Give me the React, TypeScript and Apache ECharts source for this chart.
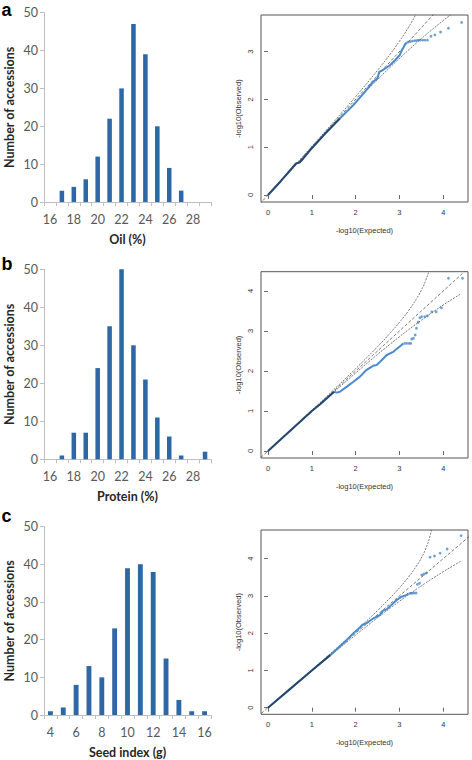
import React, { useEffect, useRef } from "react";
import * as echarts from "echarts";

// ---------- Histogram data ----------
const OIL_CATS = ["16", "17", "18", "19", "20", "21", "22", "23", "24", "25", "26", "27", "28", "29"];
const OIL_COUNTS = [0, 3, 4, 6, 12, 22, 30, 47, 39, 20, 9, 3, 0, 0];
const PROTEIN_CATS = ["16", "17", "18", "19", "20", "21", "22", "23", "24", "25", "26", "27", "28", "29"];
const PROTEIN_COUNTS = [0, 1, 7, 7, 24, 35, 50, 30, 21, 11, 6, 1, 0, 2];
const SEED_CATS = ["4", "5", "6", "7", "8", "9", "10", "11", "12", "13", "14", "15", "16"];
const SEED_COUNTS = [1, 2, 8, 13, 10, 23, 39, 40, 38, 15, 4, 1, 1];
const HIST_Y_MAX = 50;
const HIST_Y_STEP = 10;

// ---------- QQ plot data (-log10 expected, -log10 observed) ----------
const QQ_X_TICKS = [0, 1, 2, 3, 4];
const DIAG = [[-0.5, -0.5], [5, 5]];
const CI_UPPER = [
  [0, 0.005], [0.5, 0.51], [1, 1.017], [1.5, 1.531], [2, 2.058], [2.5, 2.608], [2.8, 2.962],
  [3, 3.216], [3.2, 3.496], [3.4, 3.822], [3.5, 4.019], [3.6, 4.262], [3.7, 4.612], [3.75, 4.902], [3.78, 5.2],
];
const CI_LOWER = [
  [0, -0.005], [0.5, 0.49], [1, 0.983], [1.5, 1.471], [2, 1.949], [2.5, 2.414], [2.8, 2.682],
  [3, 2.856], [3.2, 3.026], [3.4, 3.19], [3.5, 3.27], [3.6, 3.349], [3.7, 3.427], [4.0, 3.65], [4.2, 3.792], [4.4, 3.928],
];

const DENSE_A = [[0, 0], [0.3, 0.3], [0.64, 0.66], [0.72, 0.68], [0.8, 0.76], [1, 0.98], [1.3, 1.28], [1.64, 1.6]];
const OBS_A = [
  [1.64, 1.6], [1.95, 1.88], [2.25, 2.2], [2.4, 2.37], [2.5, 2.44], [2.54, 2.58], [2.6, 2.6], [2.79, 2.72],
  [2.9, 2.82], [3.01, 2.93], [3.05, 3.02], [3.09, 3.08], [3.13, 3.16], [3.17, 3.19],
];
const TAIL_A = [
  [3.2, 3.2], [3.25, 3.21], [3.3, 3.22], [3.35, 3.23], [3.39, 3.23], [3.43, 3.24], [3.47, 3.24], [3.53, 3.24],
  [3.58, 3.24], [3.64, 3.24], [3.72, 3.32], [3.81, 3.35], [3.94, 3.41], [4.12, 3.49], [4.42, 3.61],
];

const DENSE_B = [[0, 0], [0.5, 0.5], [1, 1], [1.19, 1.17], [1.51, 1.48]];
const OBS_B = [
  [1.51, 1.48], [1.57, 1.46], [1.64, 1.48], [1.8, 1.61], [1.95, 1.73], [2.1, 1.86], [2.25, 2.03], [2.4, 2.13],
  [2.48, 2.15], [2.56, 2.23], [2.71, 2.4], [2.86, 2.48], [3.05, 2.65], [3.09, 2.69],
];
const TAIL_B = [
  [3.12, 2.69], [3.17, 2.69], [3.22, 2.69], [3.26, 2.69], [3.28, 2.8], [3.32, 2.82], [3.36, 2.9], [3.39, 3.07],
  [3.43, 3.22], [3.47, 3.33], [3.51, 3.36], [3.58, 3.36], [3.64, 3.38], [3.74, 3.48], [3.84, 3.48],
  [3.96, 3.58], [4.12, 4.32], [4.44, 4.32],
];

const DENSE_C = [[0, 0], [0.5, 0.5], [1, 1.0], [1.42, 1.41]];
const OBS_C = [
  [1.42, 1.41], [1.8, 1.82], [1.95, 2.0], [2.1, 2.15], [2.15, 2.22], [2.25, 2.27], [2.41, 2.4], [2.56, 2.49],
  [2.62, 2.6], [2.71, 2.64], [2.82, 2.76], [2.94, 2.89], [3.05, 2.98], [3.17, 3.03], [3.2, 3.07],
];
const TAIL_C = [
  [3.24, 3.07], [3.29, 3.07], [3.33, 3.08], [3.38, 3.08], [3.41, 3.31], [3.46, 3.34], [3.51, 3.56], [3.56, 3.59],
  [3.62, 3.62], [3.7, 4.04], [3.8, 4.07], [3.93, 4.15], [4.09, 4.26], [4.41, 4.62],
];

const QQ_X_RANGE = [-0.16, 4.566];
const QQ_Y_RANGES = [[-0.146, 3.766], [-0.175, 4.483], [-0.177, 4.77]];
const QQ_Y_TICKS = [[0, 1, 2, 3], [0, 1, 2, 3, 4], [0, 1, 2, 3, 4]];

// ---------- layout ----------
const HIST_TOPS = [12.7, 269.3, 526.7];
const HIST_HEIGHTS = [189.3, 190, 189.3];
const QQ_TOPS = [15, 271.7, 530];
const QQ_HEIGHTS = [187, 186.3, 184.3];

const XL_FONT = 'Lato, "Open Sans", sans-serif';
const R_FONT = '"Liberation Sans", Arial, sans-serif';
const BAR_COLOR = "#2e67a5";
const AXIS_GRAY = "#bfbfbf";

export default function App() {
  const ref = useRef<HTMLDivElement>(null);

  useEffect(() => {
    if (!ref.current) return;
    const chart = echarts.init(ref.current, undefined, { renderer: "svg" });

    const grids: any[] = [];
    const xAxes: any[] = [];
    const yAxes: any[] = [];
    const series: any[] = [];

    const hists = [
      { cats: OIL_CATS, vals: OIL_COUNTS, name: "Oil (%)" },
      { cats: PROTEIN_CATS, vals: PROTEIN_COUNTS, name: "Protein (%)" },
      { cats: SEED_CATS, vals: SEED_COUNTS, name: "Seed index (g)" },
    ];

    hists.forEach((h, i) => {
      grids.push({ left: 44, width: 167, top: HIST_TOPS[i], height: HIST_HEIGHTS[i] });
      const gi = grids.length - 1;
      xAxes.push({
        type: "category",
        gridIndex: gi,
        data: h.cats,
        boundaryGap: true,
        name: h.name,
        nameLocation: "middle",
        nameGap: 31,
        nameTextStyle: { fontFamily: XL_FONT, fontWeight: "bold", fontSize: 12.5, color: "#262626" },
        axisLine: { lineStyle: { color: AXIS_GRAY, width: 1 } },
        axisTick: { show: true, interval: 0, length: 4, lineStyle: { color: AXIS_GRAY } },
        axisLabel: { interval: 1, margin: 11, fontFamily: XL_FONT, fontSize: 12.5, color: "#595959" },
        splitLine: { show: false },
      });
      yAxes.push({
        type: "value",
        gridIndex: gi,
        min: 0,
        max: HIST_Y_MAX,
        interval: HIST_Y_STEP,
        name: "Number of accessions",
        nameLocation: "middle",
        nameGap: 28,
        nameTextStyle: { fontFamily: XL_FONT, fontWeight: "bold", fontSize: 12.5, color: "#262626" },
        axisLine: { show: true, lineStyle: { color: AXIS_GRAY, width: 1 } },
        axisTick: { show: true, length: 4, lineStyle: { color: AXIS_GRAY } },
        axisLabel: { margin: 6, fontFamily: XL_FONT, fontSize: 12.5, color: "#595959" },
        splitLine: { show: false },
      });
      series.push({
        type: "bar",
        xAxisIndex: gi,
        yAxisIndex: gi,
        data: h.vals,
        barWidth: "38%",
        itemStyle: { color: BAR_COLOR },
      });
    });

    const qqs = [
      { dense: DENSE_A, obs: OBS_A, tail: TAIL_A },
      { dense: DENSE_B, obs: OBS_B, tail: TAIL_B },
      { dense: DENSE_C, obs: OBS_C, tail: TAIL_C },
    ];

    qqs.forEach((q, i) => {
      grids.push({
        left: 261,
        width: 207,
        top: QQ_TOPS[i],
        height: QQ_HEIGHTS[i],
        show: true,
        borderColor: "#555",
        borderWidth: 1,
        backgroundColor: "transparent",
      });
      const gi = grids.length - 1;
      xAxes.push({
        type: "value",
        gridIndex: gi,
        min: QQ_X_RANGE[0],
        max: QQ_X_RANGE[1],
        name: "-log10(Expected)",
        nameLocation: "middle",
        nameGap: 24,
        nameTextStyle: { fontFamily: R_FONT, fontSize: 7.5, color: "#333" },
        axisLine: { show: false },
        axisTick: { show: true, length: 4, customValues: QQ_X_TICKS, lineStyle: { color: "#444", width: 0.8 } },
        axisLabel: { customValues: QQ_X_TICKS, margin: 6, fontFamily: R_FONT, fontSize: 7.5, color: "#333" },
        splitLine: { show: false },
      });
      yAxes.push({
        type: "value",
        gridIndex: gi,
        min: QQ_Y_RANGES[i][0],
        max: QQ_Y_RANGES[i][1],
        name: "-log10(Observed)",
        nameLocation: "middle",
        nameGap: 19,
        nameTextStyle: { fontFamily: R_FONT, fontSize: 7.5, color: "#333" },
        axisLine: { show: false },
        axisTick: { show: true, length: 4, customValues: QQ_Y_TICKS[i], lineStyle: { color: "#444", width: 0.8 } },
        axisLabel: { customValues: QQ_Y_TICKS[i], rotate: 90, margin: 7, fontFamily: R_FONT, fontSize: 7.5, color: "#333" },
        splitLine: { show: false },
      });
      const common = { xAxisIndex: gi, yAxisIndex: gi, symbol: "none", silent: true, clip: true };
      series.push({ ...common, type: "line", data: DIAG, lineStyle: { color: "#555", width: 0.8, type: [3, 2] } });
      series.push({ ...common, type: "line", data: CI_UPPER, smooth: true, lineStyle: { color: "#555", width: 0.8, type: [2, 1.2] } });
      series.push({ ...common, type: "line", data: CI_LOWER, smooth: true, lineStyle: { color: "#555", width: 0.8, type: [2, 1.2] } });
      series.push({ ...common, type: "line", data: q.obs, lineStyle: { color: "#4a8bd0", width: 2 } });
      series.push({ ...common, type: "line", data: q.dense, lineStyle: { color: "#24466f", width: 2.1 } });
      series.push({
        type: "scatter",
        xAxisIndex: gi,
        yAxisIndex: gi,
        data: q.tail,
        symbol: "circle",
        symbolSize: 2.8,
        silent: true,
        itemStyle: { color: "#4a8bd0" },
      });
    });

    const letter = (t: string, y: number) => ({
      type: "text",
      left: 1.5,
      top: y,
      style: { text: t, font: `bold 18px ${R_FONT}`, fill: "#000", lineHeight: 13 },
    });

    chart.setOption({
      animation: false,
      backgroundColor: "#fff",
      grid: grids,
      xAxis: xAxes,
      yAxis: yAxes,
      series,
      graphic: [letter("a", 0.5), letter("b", 254.6), letter("c", 507.3)],
    });

    return () => chart.dispose();
  }, []);

  return (
    <div
      ref={ref}
      style={{ position: "absolute", left: 0, top: 0, width: 472, height: 760, background: "#fff" }}
    />
  );
}
